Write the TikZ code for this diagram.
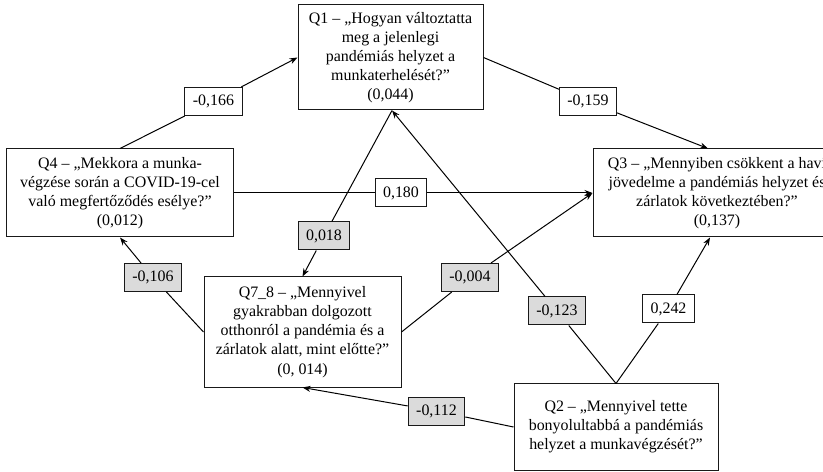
\documentclass[tikz,border=0pt]{standalone}
\usepackage{fontspec}
\setmainfont{Liberation Serif}
\usetikzlibrary{arrows.meta,calc}
\begin{document}
\begin{tikzpicture}[x=1bp,y=-1bp,
  qbox/.style={draw=black!90,line width=1bp,fill=white,align=center,inner sep=0pt,
    font=\fontsize{16}{19.2}\selectfont},
  lbl/.style={draw=black!90,line width=1bp,fill=white,inner xsep=8bp,inner ysep=0pt,
    minimum height=28bp,font=\fontsize{16}{19.2}\selectfont},
  glbl/.style={lbl,fill=black!14},
  conn/.style={line width=1bp,black},
  arr/.style={conn,-{Stealth[length=8bp,width=6bp]}}]
\clip (0,0) rectangle (823,472);
\fill[white] (0,0) rectangle (823,472);
% boxes
\node[qbox,minimum width=185bp,minimum height=105bp] (Q1) at (390.5,57.5)
  {Q1 – „Hogyan változtatta\\meg a jelenlegi\\pandémiás helyzet a\\munkaterhelését?”\\(0,044)};
\node[qbox,minimum width=248bp,minimum height=88bp] (Q3) at (717,193)
  {Q3 – „Mennyiben csökkent a havi\\jövedelme a pandémiás helyzet és\\zárlatok következtében?”\\(0,137)};
\node[qbox,minimum width=226bp,minimum height=88bp] (Q4) at (120,193)
  {Q4 – „Mekkora a munka-\\végzése során a COVID-19-cel\\való megfertőződés esélye?”\\(0,012)};
\node[qbox,minimum width=197bp,minimum height=110bp] (Q78) at (302.5,332)
  {Q7\_8 – „Mennyivel\\gyakrabban dolgozott\\otthonról a pandémia és a\\zárlatok alatt, mint előtte?”\\(0, 014)};
\node[qbox,minimum width=204bp,minimum height=86bp] (Q2) at (616,427)
  {Q2 – „Mennyivel tette\\bonyolultabbá a pandémiás\\helyzet a munkavégzését?”};
% anchor coordinates
\coordinate (Q1b) at ($(Q1.south)+(1.5,0)$);
\coordinate (Q3t) at ($(Q3.north)+(-9,0)$);
\coordinate (Q3b) at ($(Q3.south)+(-7,0)$);
% labels
\node[lbl]  (l166) at (213.5,101.5) {-0,166};
\node[lbl]  (l159) at (588,101.5) {-0,159};
\node[lbl]  (l180) at (401,193) {0,180};
\node[glbl] (l018) at (324,236) {0,018};
\node[glbl] (l106) at (153,277.5) {-0,106};
\node[glbl] (l004) at (470,277.5) {-0,004};
\node[glbl] (l123) at (557,311) {-0,123};
\node[lbl]  (l242) at (668.5,309) {0,242};
\node[glbl] (l112) at (436.5,411) {-0,112};
% connectors
\draw[conn] (Q4.north) -- (l166); \draw[arr] (l166) -- (Q1.west);
\draw[conn] (Q1.east) -- (l159); \draw[arr] (l159) -- (Q3t);
\draw[conn] (Q4.east) -- (l180); \draw[arr] (l180) -- (Q3.west);
\draw[conn] (Q1b) -- (l018); \draw[arr] (l018) -- (Q78.north);
\draw[conn] (Q78.west) -- (l106); \draw[arr] (l106) -- (Q4.south);
\draw[conn] (Q78.east) -- (l004); \draw[arr] (l004) -- (Q3.west);
\draw[conn] (Q2.north) -- (l123); \draw[arr] (l123) -- (Q1b);
\draw[conn] (Q2.north) -- (l242); \draw[arr] (l242) -- (Q3b);
\draw[conn] (Q2.west) -- (l112); \draw[arr] (l112) -- (Q78.south);
\end{tikzpicture}
\end{document}
